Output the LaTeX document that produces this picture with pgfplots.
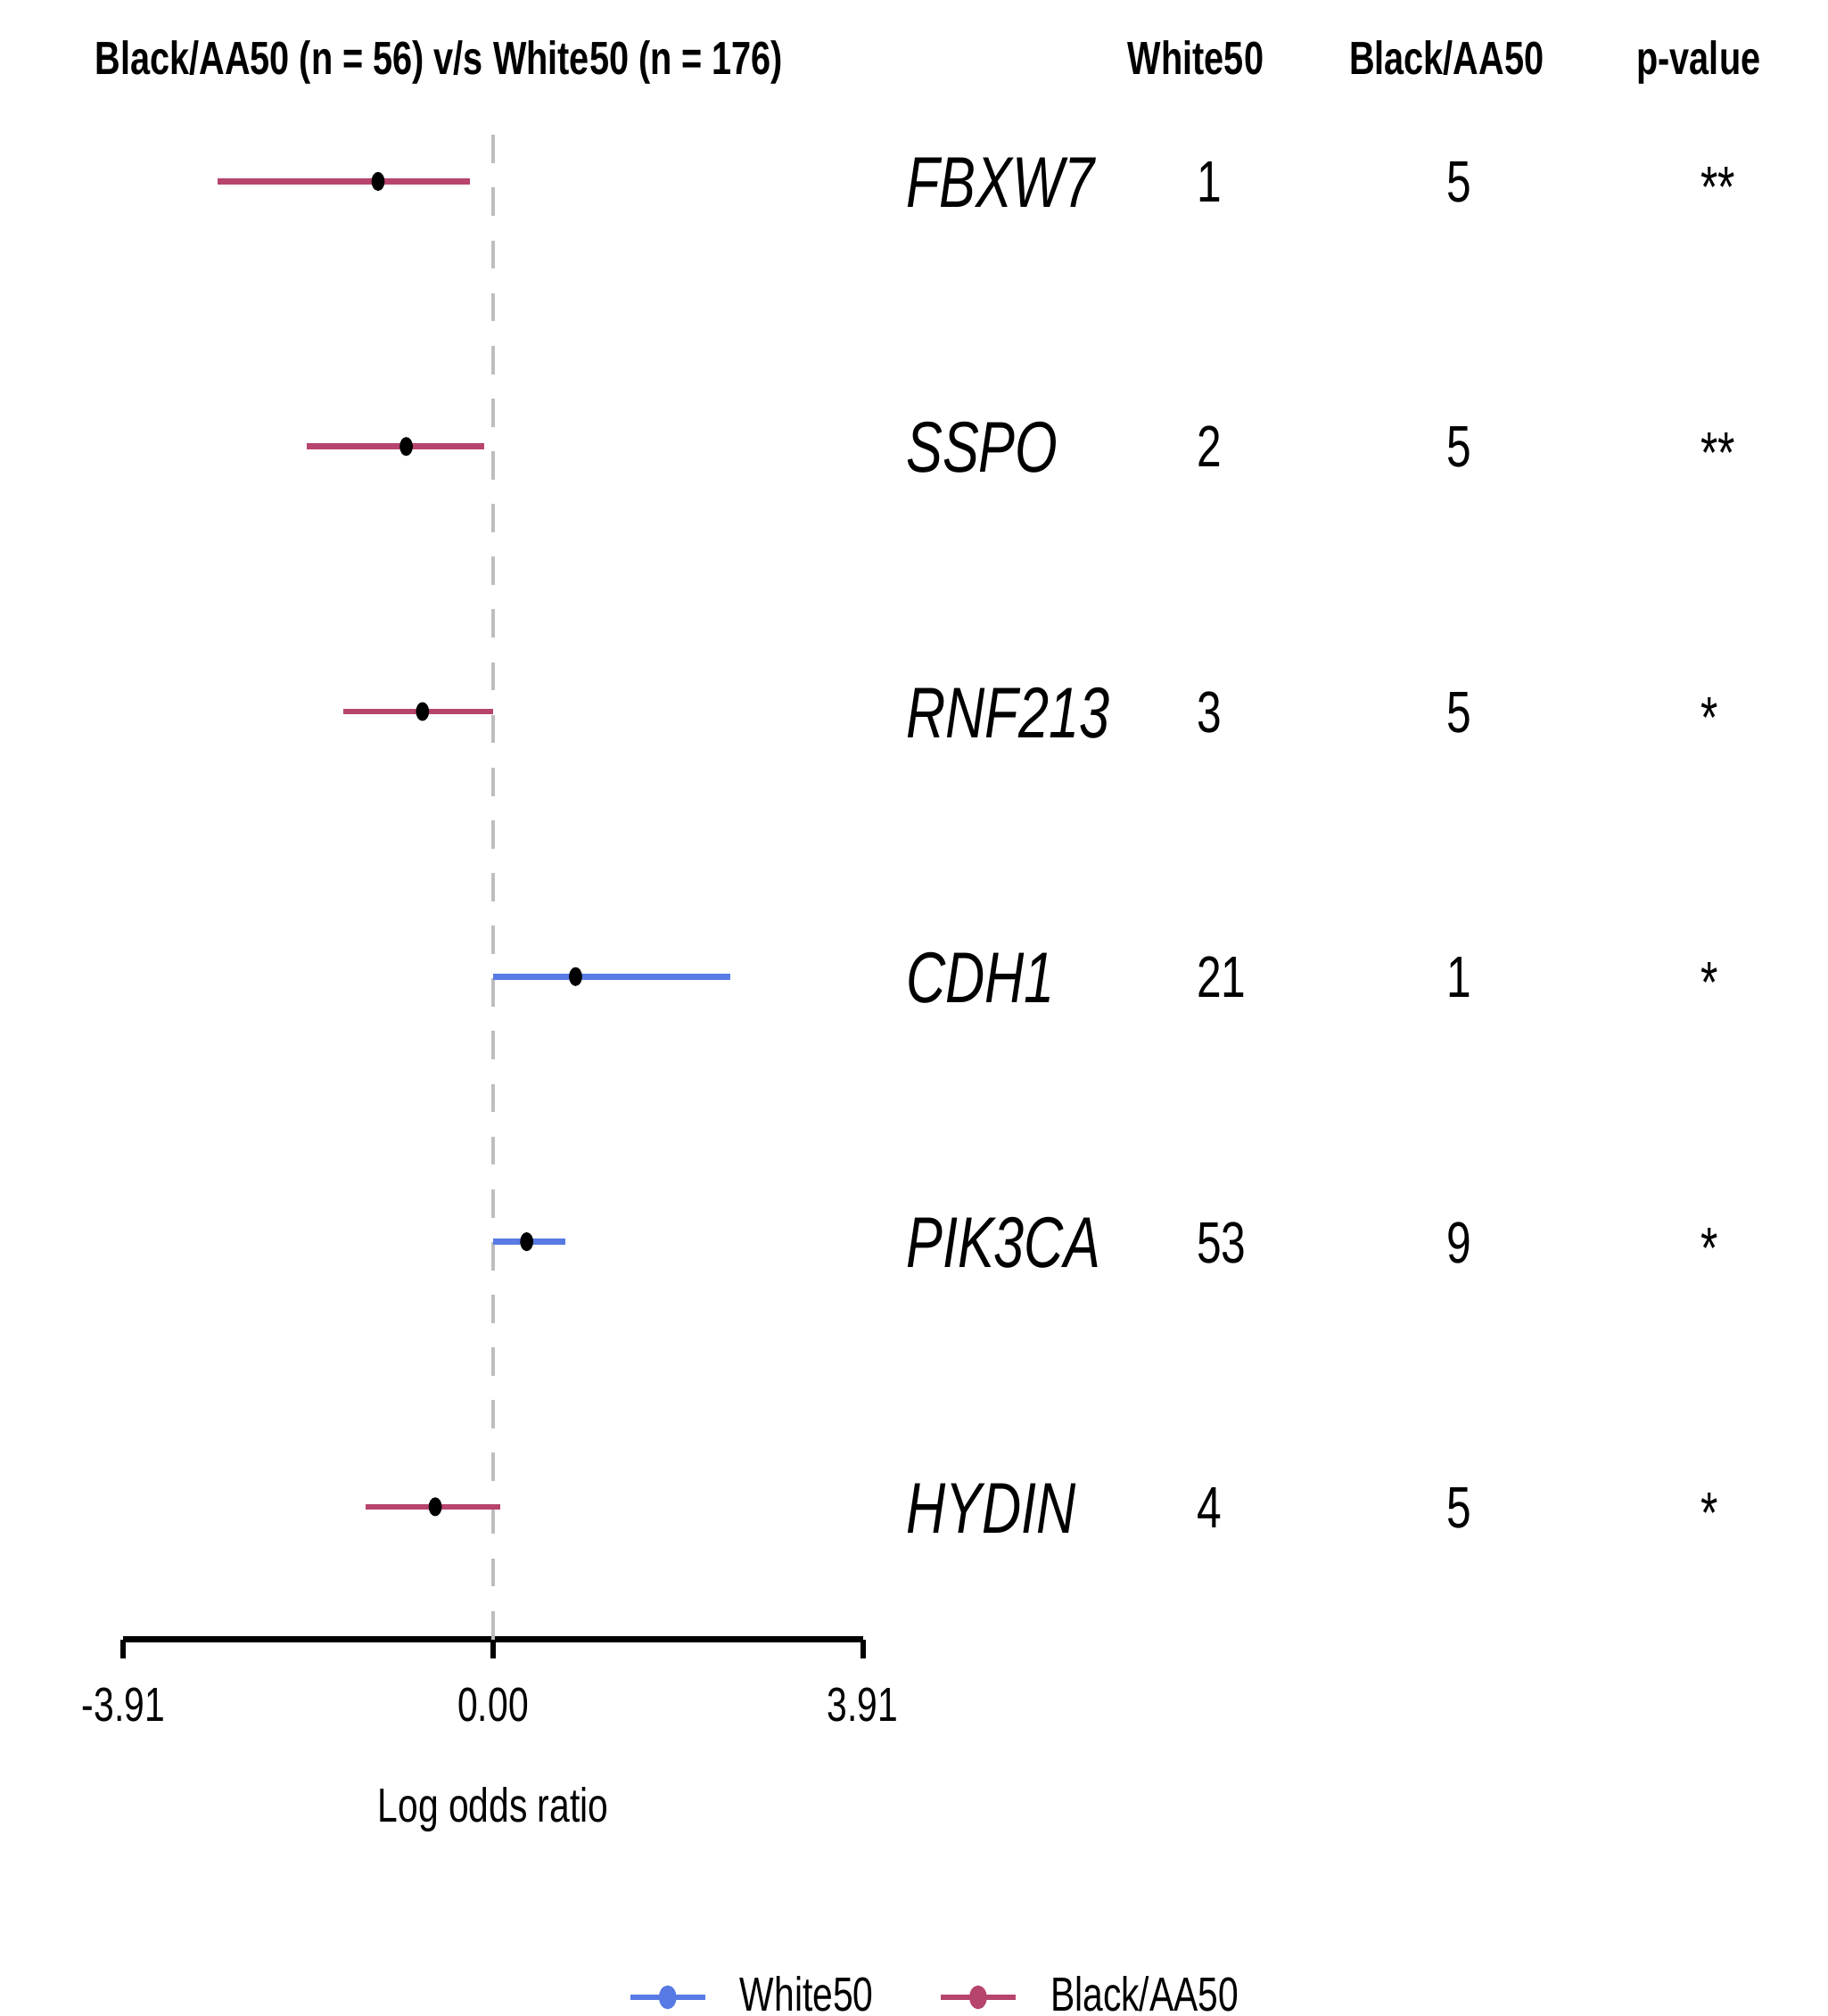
\documentclass[border=0pt]{standalone}
\usepackage{fontspec}
\setmainfont{Liberation Sans}[FakeStretch=0.76]
\usepackage{pgfplots}
\pgfplotsset{compat=1.18}
\usepackage{pgfplotstable}
\definecolor{maroonR}{RGB}{183,68,110}
\definecolor{royalR}{RGB}{88,122,228}
\definecolor{greyR}{RGB}{190,190,190}
\newcommand\fs[1]{\fontsize{#1}{#1}\selectfont}

% y = row, x = log odds ratio, lo/hi = confidence limits
\pgfplotstableread{
y x lo hi
6 -1.217 -2.914 -0.245
5 -0.919 -1.972 -0.099
4 -0.747 -1.583 0.000
1 -0.612 -1.351 0.079
}\blackdata
\pgfplotstableread{
y x lo hi
3 0.872 0.000 2.508
2 0.355 0.000 0.764
}\whitedata

\begin{document}
\begin{tikzpicture}
\path[use as bounding box] (-0.96,-2.93) rectangle (13.25,12.75);
\begin{axis}[
  at={(0,0)}, anchor=south west,
  scale only axis, width=5.75cm, height=12.37cm,
  xmin=-3.91, xmax=3.91, ymin=0.5, ymax=6.5,
  clip=false,
  axis x line*=bottom, axis y line=none, ytick=\empty,
  x axis line style={line width=1.5pt, -, black},
  xtick={-3.91,0,3.91}, xticklabels={-3.91,0.00,3.91},
  tick align=outside, major tick length=0.15cm,
  xtick style={line width=1.2pt, black},
  xticklabel style={font=\fs{10.6}, anchor=base, yshift=-0.49cm},
  xlabel={Log odds ratio},
  xlabel style={font=\fs{10.6}, at={(axis description cs:0.5,0)}, anchor=base, yshift=-1.42cm},
  legend columns=2,
  legend cell align=left,
  legend image code/.code={\draw[mark repeat=2, mark phase=2, #1] plot coordinates {(0cm,0cm) (0.29cm,0cm) (0.58cm,0cm)};},
  legend style={at={(axis description cs:0.6817,-0.2251)}, anchor=west, draw=none, fill=none,
    inner sep=0pt, outer sep=0pt, font=\fs{10.6}, nodes={inner sep=0pt},
    /tikz/every odd column/.append style={column sep=0.25cm},
    /tikz/every even column/.append style={column sep=0.50cm}},
]
\addplot[forget plot, greyR, line width=0.9pt, dash pattern=on 0.22cm off 0.19cm] coordinates {(0,0.5) (0,6.223)};

\addplot[forget plot, draw=none, mark=none,
  error bars/.cd, x dir=both, x explicit, error mark=none,
  error bar style={draw=maroonR, solid, line width=1.3pt}]
  table[x=x, y=y, x error plus expr=\thisrow{hi}-\thisrow{x}, x error minus expr=\thisrow{x}-\thisrow{lo}] {\blackdata};
\addplot[forget plot, draw=none, mark=none,
  error bars/.cd, x dir=both, x explicit, error mark=none,
  error bar style={draw=royalR, solid, line width=1.3pt}]
  table[x=x, y=y, x error plus expr=\thisrow{hi}-\thisrow{x}, x error minus expr=\thisrow{x}-\thisrow{lo}] {\whitedata};

\addplot[forget plot, only marks, mark=*, mark size=1.25pt, mark options={black, fill=black, yscale=1.5}]
  table[x=x, y=y] {\blackdata};
\addplot[forget plot, only marks, mark=*, mark size=1.25pt, mark options={black, fill=black, yscale=1.5}]
  table[x=x, y=y] {\whitedata};

\addlegendimage{royalR, line width=1.3pt, mark=*, mark size=1.3pt, mark options={solid, fill=royalR, yscale=1.5}}
\addlegendentry{White50}
\addlegendimage{maroonR, line width=1.3pt, mark=*, mark size=1.3pt, mark options={solid, fill=maroonR, yscale=1.5}}
\addlegendentry{Black/AA50}
\end{axis}

% headers
\node[anchor=base, font=\bfseries\fs{10.3}] at (2.455,12.172) {Black/AA50 (n = 56) v/s White50 (n = 176)};
\node[anchor=base, font=\bfseries\fs{10.3}] at (8.34,12.172) {White50};
\node[anchor=base, font=\bfseries\fs{10.3}] at (10.29,12.172) {Black/AA50};
\node[anchor=base, font=\bfseries\fs{10.3}] at (12.25,12.172) {p-value};

% gene names
\begin{scope}[every node/.style={anchor=base west, inner sep=0pt, font=\itshape\fs{15.9}}]
\node at (6.08,11.138) {FBXW7};
\node at (6.08,9.076) {SSPO};
\node at (6.08,7.014) {RNF213};
\node at (6.08,4.952) {CDH1};
\node at (6.08,2.890) {PIK3CA};
\node at (6.08,0.828) {HYDIN};
\end{scope}

% counts
\begin{scope}[every node/.style={anchor=base west, inner sep=0pt, font=\fs{12.9}}]
\node at (8.34,11.178) {1};
\node at (8.34,9.116) {2};
\node at (8.34,7.054) {3};
\node at (8.34,4.992) {21};
\node at (8.34,2.930) {53};
\node at (8.34,0.868) {4};
\node at (10.285,11.178) {5};
\node at (10.285,9.116) {5};
\node at (10.285,7.054) {5};
\node at (10.285,4.992) {1};
\node at (10.285,2.930) {9};
\node at (10.285,0.868) {5};
\node at (12.26,11.135) {**};
\node at (12.26,9.073) {**};
\node at (12.26,7.011) {*};
\node at (12.26,4.949) {*};
\node at (12.26,2.887) {*};
\node at (12.26,0.825) {*};
\end{scope}
\end{tikzpicture}
\end{document}
